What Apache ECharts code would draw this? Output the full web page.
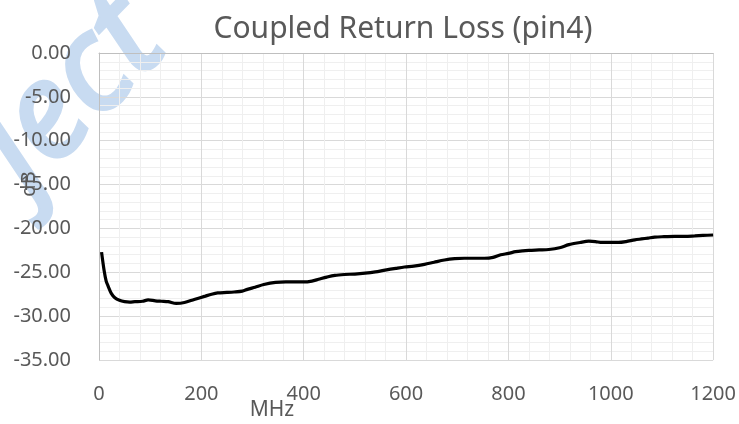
<!DOCTYPE html>
<html>
<head>
<meta charset="utf-8">
<script src="https://cdn.jsdelivr.net/npm/echarts@6/dist/echarts.min.js"></script>
<style>
  html, body { margin: 0; padding: 0; background: #fff; }
  #chart { width: 739px; height: 424px; }
</style>
</head>
<body>
<div id="chart"></div>
<script>
// frequency (MHz) and coupled return loss (dB)
const freq = [5, 10, 14, 18, 24, 31, 40, 50, 60, 70, 85, 96, 110, 122, 135, 151, 167, 186,
  206, 220, 232, 250, 264, 280, 290, 305, 322, 345, 365, 381, 400, 416, 429, 445, 461, 480,
  500, 520, 540, 559, 580, 597, 615, 636, 655, 675, 695, 714, 735, 753, 770, 785, 800, 814,
  828, 840, 860, 879, 900, 918, 940, 957, 970, 983, 1000, 1015, 1030, 1047, 1060, 1073, 1086,
  1100, 1125, 1145, 1164, 1180, 1200]
const loss = [-22.7, -24.8, -26.0, -26.6, -27.4, -27.9, -28.2, -28.35, -28.4, -28.35, -28.3,
  -28.15, -28.25, -28.3, -28.35, -28.55, -28.45, -28.1, -27.75, -27.5, -27.35, -27.3, -27.25,
  -27.15, -26.95, -26.7, -26.4, -26.15, -26.1, -26.1, -26.1, -26.0, -25.8, -25.55, -25.35,
  -25.25, -25.2, -25.1, -24.95, -24.75, -24.55, -24.4, -24.3, -24.1, -23.85, -23.6, -23.45,
  -23.4, -23.4, -23.4, -23.3, -23.0, -22.85, -22.65, -22.55, -22.5, -22.45, -22.4, -22.2,
  -21.85, -21.6, -21.45, -21.5, -21.6, -21.6, -21.6, -21.5, -21.3, -21.2, -21.1, -21.0,
  -20.95, -20.9, -20.9, -20.85, -20.8, -20.75]
const xTicks = [0, 200, 400, 600, 800, 1000, 1200]
const yTicks = [0, -5, -10, -15, -20, -25, -30, -35]

const FONT = '"Noto Sans", sans-serif'
const TEXT = '#595959'

const chart = echarts.init(document.getElementById('chart'), null, { renderer: 'canvas' })

chart.setOption({
  animation: false,
  backgroundColor: '#fff',
  textStyle: { fontFamily: FONT },
  grid: { left: 99, right: 23, top: 53, bottom: 64, containLabel: false },
  title: {
    text: 'Coupled Return Loss (pin4)',
    left: 398,
    top: 9,
    textAlign: 'center',
    textStyle: { fontFamily: FONT, fontSize: 30, fontWeight: 'normal', color: TEXT }
  },
  graphic: [
    {
      // watermark peeking in at the top-left corner, under the axes
      type: 'text', x: -46, y: 122, rotation: 0.8, z: -10, silent: true,
      style: { text: 'ject', fontFamily: FONT, fontStyle: 'italic', fontSize: 132,
        fill: '#c8dbf1', stroke: '#c8dbf1', lineWidth: 4,
        align: 'left', verticalAlign: 'top' }
    },
    {
      type: 'text', x: 272, y: 410, z: 10,
      style: { text: 'MHz', fontFamily: FONT, fontSize: 21, fill: TEXT,
        align: 'center', verticalAlign: 'middle' }
    },
    {
      type: 'text', x: 29, y: 184, rotation: Math.PI / 2, z: 10,
      style: { text: 'dB', fontFamily: FONT, fontSize: 20, fill: TEXT,
        align: 'center', verticalAlign: 'middle' }
    }
  ],
  xAxis: {
    type: 'value',
    min: xTicks[0],
    max: xTicks[xTicks.length - 1],
    interval: 200,
    axisLine: { show: true, lineStyle: { color: '#bfbfbf', width: 1 } },
    axisTick: { show: false },
    axisLabel: { color: TEXT, fontSize: 20, fontFamily: FONT, margin: 24,
      formatter: v => String(v) },
    splitLine: { show: true, lineStyle: { color: '#d9d9d9', width: 1 } },
    minorTick: { show: false, splitNumber: 5 },
    minorSplitLine: { show: true, lineStyle: { color: '#efefef', width: 1 } }
  },
  yAxis: {
    type: 'value',
    min: yTicks[yTicks.length - 1],
    max: yTicks[0],
    interval: 5,
    axisLine: { show: true, lineStyle: { color: '#bfbfbf', width: 1 } },
    axisTick: { show: false },
    axisLabel: { color: TEXT, fontSize: 20, fontFamily: FONT, margin: 28,
      formatter: v => v.toFixed(2) },
    splitLine: { show: true, lineStyle: { color: '#d9d9d9', width: 1 } },
    minorTick: { show: false, splitNumber: 5 },
    minorSplitLine: { show: true, lineStyle: { color: '#efefef', width: 1 } }
  },
  series: [{
    type: 'line',
    data: freq.map((f, i) => [f, loss[i]]),
    showSymbol: false,
    smooth: 0.3,
    lineStyle: { color: '#000', width: 3.2 },
    z: 5
  }]
})
</script>
</body>
</html>
